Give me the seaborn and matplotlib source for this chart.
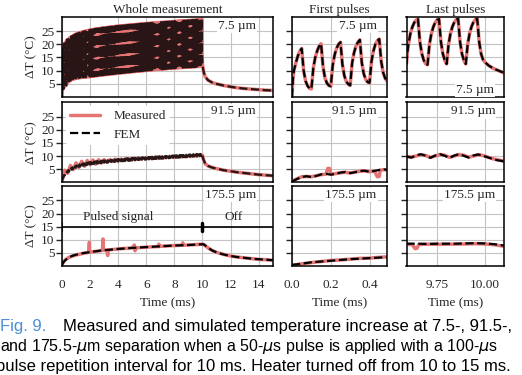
import numpy as np
import seaborn as sns
import matplotlib.pyplot as plt

# ==========================================
# DATA
# ==========================================
# pulse start times: 50-us pulse every 100 us during 10 ms
pulse_start = np.arange(100) * 0.1

# --- 7.5 um, whole measurement: trough before / peak of every pulse ---
trough_7 = [0.0, 3.0, 4.0, 4.3, 5.3, 5.9, 6.2, 6.5, 6.7, 6.9,
            7.0, 7.1, 7.2, 7.3, 7.3, 7.4, 7.5, 7.5, 7.6, 7.6,
            7.7, 7.8, 7.8, 7.9, 8.0, 8.0, 8.1, 8.2, 8.2, 8.3,
            8.4, 8.4, 8.5, 8.5, 8.6, 8.7, 8.7, 8.8, 8.8, 8.9,
            9.0, 9.0, 9.1, 9.1, 9.2, 9.2, 9.3, 9.3, 9.4, 9.5,
            9.5, 9.6, 9.6, 9.7, 9.7, 9.8, 9.8, 9.9, 9.9, 10.0,
            10.0, 10.1, 10.1, 10.2, 10.2, 10.3, 10.3, 10.4, 10.4, 10.5,
            10.5, 10.5, 10.6, 10.6, 10.7, 10.7, 10.8, 10.8, 10.8, 10.9,
            10.9, 11.0, 11.0, 11.0, 11.1, 11.1, 11.1, 11.2, 11.2, 11.2,
            11.3, 11.3, 11.3, 11.4, 11.4, 11.4, 11.5, 11.5, 11.5, 11.6]
peak_7 = [18.4, 20.2, 20.8, 21.7, 22.0, 22.5, 22.9, 23.2, 23.5, 23.8,
          24.0, 24.2, 24.4, 24.6, 24.7, 24.9, 25.0, 25.1, 25.3, 25.4,
          25.5, 25.6, 25.7, 25.8, 25.9, 26.0, 26.0, 26.1, 26.2, 26.3,
          26.3, 26.4, 26.5, 26.5, 26.6, 26.7, 26.7, 26.8, 26.9, 26.9,
          27.0, 27.0, 27.1, 27.1, 27.2, 27.2, 27.3, 27.3, 27.4, 27.4,
          27.5, 27.5, 27.6, 27.6, 27.7, 27.7, 27.8, 27.8, 27.9, 27.9,
          28.0, 28.0, 28.0, 28.1, 28.1, 28.2, 28.2, 28.2, 28.3, 28.3,
          28.4, 28.4, 28.4, 28.5, 28.5, 28.5, 28.6, 28.6, 28.7, 28.7,
          28.8, 28.8, 28.8, 28.9, 28.9, 28.9, 29.0, 29.0, 29.0, 29.1,
          29.1, 29.1, 29.2, 29.2, 29.2, 29.3, 29.3, 29.4, 29.5, 29.6]
tail_t_7 = [9.97, 10.0, 10.05, 10.1, 10.2, 10.4, 10.7, 11.0, 11.5, 12.0,
            12.5, 13.0, 13.5, 14.0, 14.5, 15.0]
tail_7 = [16.5, 12.5, 10.5, 9.2, 7.6, 6.3, 5.4, 4.9, 4.3, 3.8,
          3.4, 3.1, 2.9, 2.7, 2.5, 2.4]

# --- 91.5 um, whole measurement ---
trough_91 = [0.5, 1.8, 2.6, 3.2, 3.7, 4.1, 4.5, 4.8, 5.1, 5.3,
             5.5, 5.7, 5.9, 6.0, 6.2, 6.3, 6.4, 6.5, 6.6, 6.7,
             6.8, 6.9, 6.9, 7.0, 7.1, 7.1, 7.2, 7.3, 7.3, 7.4,
             7.4, 7.5, 7.5, 7.6, 7.6, 7.7, 7.7, 7.8, 7.8, 7.9,
             7.9, 8.0, 8.0, 8.0, 8.1, 8.1, 8.2, 8.2, 8.2, 8.3,
             8.3, 8.4, 8.4, 8.4, 8.5, 8.5, 8.5, 8.6, 8.6, 8.6,
             8.7, 8.7, 8.7, 8.8, 8.8, 8.8, 8.9, 8.9, 8.9, 9.0,
             9.0, 9.0, 9.1, 9.1, 9.1, 9.2, 9.2, 9.2, 9.3, 9.3,
             9.3, 9.4, 9.4, 9.4, 9.5, 9.5, 9.5, 9.6, 9.6, 9.6,
             9.7, 9.7, 9.7, 9.8, 9.8, 9.8, 9.9, 9.9, 9.9, 10.0]
peak_91 = [1.5, 2.7, 3.5, 4.1, 4.6, 5.0, 5.4, 5.7, 6.0, 6.2,
           6.4, 6.6, 6.8, 6.9, 7.1, 7.2, 7.3, 7.4, 7.5, 7.6,
           7.7, 7.8, 7.8, 7.9, 8.0, 8.0, 8.1, 8.2, 8.2, 8.3,
           8.3, 8.4, 8.4, 8.5, 8.5, 8.6, 8.6, 8.7, 8.7, 8.8,
           8.8, 8.9, 8.9, 8.9, 9.0, 9.0, 9.1, 9.1, 9.1, 9.2,
           9.2, 9.3, 9.3, 9.3, 9.4, 9.4, 9.4, 9.5, 9.5, 9.5,
           9.6, 9.6, 9.6, 9.7, 9.7, 9.7, 9.8, 9.8, 9.8, 9.9,
           9.9, 9.9, 10.0, 10.0, 10.0, 10.1, 10.1, 10.1, 10.2, 10.2,
           10.2, 10.3, 10.3, 10.3, 10.4, 10.4, 10.4, 10.5, 10.5, 10.5,
           10.6, 10.6, 10.6, 10.7, 10.7, 10.7, 10.8, 10.8, 10.8, 10.9]
meas_t_91 = [0.0, 0.2, 0.4, 0.6, 0.8, 1.0, 1.2, 1.4, 1.6, 1.8,
             2.0, 2.2, 2.4, 2.6, 2.8, 3.0, 3.2, 3.4, 3.6, 3.8,
             4.0, 4.2, 4.4, 4.6, 4.8, 5.0, 5.2, 5.4, 5.6, 5.8,
             6.0, 6.2, 6.4, 6.6, 6.8, 7.0, 7.2, 7.4, 7.6, 7.8,
             8.0, 8.2, 8.4, 8.6, 8.8, 9.0, 9.2, 9.4, 9.6, 9.8, 10.0]
meas_91 = [0.5, 4.6, 3.4, 6.4, 4.8, 7.4, 5.6, 8.0, 6.1, 8.3,
           6.7, 8.5, 6.9, 8.6, 7.3, 8.6, 7.6, 8.6, 7.9, 8.8,
           8.1, 8.8, 8.3, 9.0, 8.5, 9.1, 8.6, 9.2, 8.8, 9.3,
           8.9, 9.4, 9.0, 9.5, 9.1, 9.6, 9.2, 9.7, 9.4, 9.8,
           9.5, 9.9, 9.6, 10.0, 9.7, 10.1, 9.8, 10.3, 9.9, 10.5, 10.3]
tail_t_91 = [10.0, 10.05, 10.1, 10.2, 10.4, 10.7, 11.0, 11.5, 12.0, 12.5,
             13.0, 13.5, 14.0, 14.5, 15.0]
tail_91 = [10.2, 9.0, 8.3, 7.0, 6.2, 5.6, 5.2, 4.6, 4.2, 3.8,
           3.5, 3.2, 2.9, 2.7, 2.5]

# --- 175.5 um, whole measurement ---
fem_t_175 = [0, 0.1, 0.25, 0.5, 0.75, 1, 1.5, 2, 2.5, 3, 4, 5, 6, 7, 8, 9, 10,
             10.1, 10.2, 10.4, 10.7, 11, 11.5, 12, 12.5, 13, 13.5, 14, 14.5, 15]
fem_175 = [0.4, 1.4, 2.3, 3.3, 3.9, 4.3, 4.9, 5.3, 5.7, 6.0, 6.5, 6.9, 7.2,
           7.5, 7.8, 8.0, 8.3, 8.2, 7.8, 6.9, 5.9, 5.2, 4.4, 3.8, 3.4, 3.1,
           2.8, 2.6, 2.4, 2.2]
meas_t_175 = [0, 0.1, 0.25, 0.5, 0.75, 1.0, 1.5, 1.9, 1.95, 1.97, 2.0, 2.5,
              2.88, 2.92, 2.95, 3.2, 3.25, 3.3, 4.0, 5.0, 5.15, 5.2, 5.25,
              5.3, 6.0, 6.85, 6.9, 6.95, 7.0, 8.0, 8.55, 8.6, 8.65, 9.0,
              10.0, 10.1, 10.2, 10.4, 10.7, 11.0, 11.5, 12.0, 12.5, 13.0,
              13.5, 14.0, 14.5, 15.0]
meas_175 = [0.4, 1.5, 2.4, 3.3, 3.8, 4.2, 4.8, 5.2, 9.0, 5.3, 5.3, 5.6,
            6.0, 10.3, 6.0, 6.1, 4.0, 6.1, 6.5, 6.9, 8.0, 5.8, 6.9,
            6.9, 7.2, 7.4, 8.3, 7.4, 7.5, 7.8, 7.9, 8.8, 7.9, 8.0,
            8.3, 8.2, 7.7, 6.9, 5.9, 5.2, 4.4, 3.8, 3.4, 3.1,
            2.8, 2.5, 2.4, 2.2]

# --- first pulses (0 - 0.49 ms) ---
first_t_7 = [0.0, 0.005, 0.01, 0.02, 0.03, 0.04, 0.05, 0.06, 0.07, 0.08, 0.09,
             0.10, 0.11, 0.12, 0.13, 0.14, 0.15, 0.16, 0.17, 0.18, 0.19,
             0.20, 0.21, 0.22, 0.23, 0.24, 0.25, 0.26, 0.27, 0.28, 0.29,
             0.30, 0.31, 0.32, 0.33, 0.34, 0.35, 0.36, 0.37, 0.38, 0.39,
             0.40, 0.41, 0.42, 0.43, 0.44, 0.45, 0.46, 0.47, 0.48, 0.49]
first_7 = [0.0, 7.0, 10.0, 13.0, 15.5, 17.3, 18.4, 10.0, 6.0, 4.2, 3.2,
           3.0, 11.0, 15.0, 17.5, 19.3, 20.2, 11.5, 7.2, 5.2, 4.3,
           4.0, 12.0, 16.0, 18.5, 20.0, 20.8, 12.3, 8.0, 5.8, 4.8,
           4.3, 12.8, 16.8, 19.3, 20.8, 21.7, 13.0, 8.8, 6.6, 5.6,
           5.3, 13.5, 17.5, 20.0, 21.3, 22.0, 13.5, 9.3, 7.1, 6.0]
first_t_91 = [0.0, 0.025, 0.05, 0.075, 0.1, 0.125, 0.15, 0.175, 0.2, 0.225,
              0.25, 0.275, 0.3, 0.325, 0.35, 0.375, 0.4, 0.425, 0.45, 0.475, 0.49]
first_fem_91 = [0.3, 1.2, 2.0, 2.3, 2.0, 2.4, 3.0, 3.2, 2.9, 3.2,
                3.7, 3.9, 3.5, 3.8, 4.3, 4.4, 4.0, 4.3, 4.7, 4.9, 4.7]
first_mt_91 = [0.0, 0.025, 0.05, 0.075, 0.1, 0.125, 0.15, 0.175, 0.185, 0.195,
               0.2, 0.225, 0.25, 0.275, 0.3, 0.325, 0.35, 0.375, 0.4, 0.425,
               0.44, 0.45, 0.455, 0.475, 0.49]
first_meas_91 = [0.3, 1.3, 2.1, 2.2, 2.1, 2.5, 2.9, 3.1, 5.3, 5.2,
                 3.0, 3.3, 3.6, 3.8, 3.5, 3.9, 4.2, 4.3, 4.0, 4.3,
                 2.1, 2.2, 4.6, 4.8, 4.7]
first_t_175 = [0.0, 0.05, 0.1, 0.15, 0.2, 0.25, 0.3, 0.35, 0.4, 0.45, 0.49]
first_fem_175 = [0.4, 0.9, 1.4, 1.7, 2.0, 2.3, 2.6, 2.8, 3.0, 3.2, 3.4]
first_meas_175 = [0.3, 0.8, 1.3, 1.7, 2.1, 2.3, 2.6, 2.9, 3.0, 3.3, 3.5]

# --- last pulses (9.59 - 10.10 ms) ---
last_t_7 = [9.59, 9.595, 9.60, 9.61, 9.62, 9.63, 9.64, 9.65, 9.66, 9.67, 9.68, 9.69,
            9.70, 9.71, 9.72, 9.73, 9.74, 9.75, 9.76, 9.77, 9.78, 9.79,
            9.80, 9.81, 9.82, 9.83, 9.84, 9.85, 9.86, 9.87, 9.88, 9.89,
            9.90, 9.91, 9.92, 9.93, 9.94, 9.95, 9.96, 9.97, 9.98, 9.99,
            10.00, 10.02, 10.04, 10.06, 10.08, 10.10]
last_7 = [12.5, 17.0, 20.0, 24.0, 26.5, 28.2, 29.2, 29.6, 21.0, 16.5, 14.0, 12.6,
          12.2, 20.0, 24.0, 26.6, 28.3, 29.3, 29.6, 21.0, 16.4, 13.9,
          12.5, 20.0, 24.1, 26.7, 28.4, 29.4, 29.7, 21.0, 16.4, 13.9,
          12.5, 20.0, 24.1, 26.7, 28.4, 29.4, 29.7, 21.0, 16.4, 14.2,
          13.2, 11.9, 11.0, 10.3, 9.7, 9.1]
last_t_91 = [9.59, 9.615, 9.64, 9.665, 9.69, 9.715, 9.74, 9.765, 9.79, 9.815,
             9.84, 9.865, 9.89, 9.915, 9.94, 9.965, 9.99, 10.015, 10.04,
             10.065, 10.09, 10.10]
last_fem_91 = [9.8, 9.4, 10.2, 10.7, 10.1, 9.3, 10.2, 10.7, 10.1, 9.3,
               10.2, 10.7, 10.1, 9.4, 10.2, 10.6, 10.1, 9.5, 8.9, 8.4, 8.1, 8.0]
last_meas_91 = [9.9, 9.6, 10.0, 10.5, 10.2, 9.5, 10.0, 10.6, 10.3, 9.5,
                10.0, 10.6, 10.3, 9.6, 10.0, 10.5, 10.2, 9.6, 9.0, 8.6, 8.2, 7.9]
last_t_175 = [9.59, 9.65, 9.7, 9.75, 9.8, 9.85, 9.9, 9.95, 10.0, 10.05, 10.1]
last_fem_175 = [8.5, 8.5, 8.4, 8.5, 8.5, 8.5, 8.6, 8.7, 8.6, 8.3, 7.8]
last_mt_175 = [9.59, 9.62, 9.635, 9.645, 9.655, 9.7, 9.8, 9.9, 9.95, 10.0, 10.05, 10.1]
last_meas_175 = [8.2, 8.2, 6.6, 6.8, 8.2, 8.3, 8.3, 8.4, 8.5, 8.4, 8.1, 7.5]

# heater signal annotation: on from 0 to 10 ms, off until 15 ms
signal_t = [0, 10, 15]
signal_level = 15

sep_labels = ['7.5 µm', '91.5 µm', '175.5 µm']
col_titles = ['Whole measurement', 'First pulses', 'Last pulses']


def zigzag(trough, peak, tail_t, tail):
    # pulse train: trough at pulse start, peak at pulse end (+50 us)
    t = np.column_stack([pulse_start, pulse_start + 0.05]).ravel()
    y = np.column_stack([trough, peak]).ravel()
    return np.concatenate([t, tail_t]), np.concatenate([y, tail])


# ==========================================
# FIGURE
# ==========================================
sns.set_style('ticks')
plt.rcParams['font.family'] = ['Liberation Serif', 'DejaVu Serif']
plt.rcParams['mathtext.fontset'] = 'dejavusans'

RED = '#e57575'
fig = plt.figure(figsize=(5.22, 3.75), dpi=100)

lefts = [62 / 522, 292 / 522, 406.5 / 522]
widths = [210.7 / 522, 95 / 522, 97.5 / 522]
bottoms = [0.742, 0.514, 0.2907]
h = 0.2133

axes = [[fig.add_axes([lefts[c], bottoms[r], widths[c], h]) for c in range(3)]
        for r in range(3)]

whole_7 = zigzag(trough_7, peak_7, tail_t_7, tail_7)
whole_91 = zigzag(trough_91, peak_91, tail_t_91, tail_91)

series = [
    # row 7.5 um: measured and FEM overlap on this scale
    [(whole_7, whole_7), ((first_t_7, first_7), (first_t_7, first_7)),
     ((last_t_7, last_7), (last_t_7, last_7))],
    [((meas_t_91 + tail_t_91, meas_91 + tail_91), whole_91),
     ((first_mt_91, first_meas_91), (first_t_91, first_fem_91)),
     ((last_t_91, last_meas_91), (last_t_91, last_fem_91))],
    [((meas_t_175, meas_175), (fem_t_175, fem_175)),
     ((first_t_175, first_meas_175), (first_t_175, first_fem_175)),
     ((last_mt_175, last_meas_175), (last_t_175, last_fem_175))],
]

xlims = [(0, 15), (0, 0.49), (9.59, 10.10)]
xticks = [list(range(0, 15, 2)), [0.0, 0.2, 0.4], [9.75, 10.0]]
xticklabels = [[str(v) for v in range(0, 15, 2)], ['0.0', '0.2', '0.4'], ['9.75', '10.00']]

for r in range(3):
    for c in range(3):
        ax = axes[r][c]
        (mt, my), (ft, fy) = series[r][c]
        lab = (r == 1 and c == 0)
        # dense pulse trains: dashes blur into a dark brown band
        fem_alpha = 0.82 if (c == 0 and r < 2) else 1.0
        sns.lineplot(x=np.asarray(mt), y=np.asarray(my), ax=ax, color=RED, lw=2.5,
                     sort=False, estimator=None, label='Measured' if lab else None)
        sns.lineplot(x=np.asarray(ft), y=np.asarray(fy), ax=ax, color='black', lw=1.6,
                     linestyle='--', sort=False, estimator=None, alpha=fem_alpha,
                     label='FEM' if lab else None)

        ax.set_xlim(*xlims[c])
        ax.set_ylim(0, 30.5)
        ax.set_xticks(xticks[c])
        ax.set_yticks([5, 10, 15, 20, 25])
        ax.grid(True, color='#c4c4c4', lw=0.8)
        ax.set_axisbelow(True)
        ax.tick_params(axis='x', length=0, labelsize=9.5, pad=9.5)
        ax.tick_params(axis='y', length=4, width=1, labelsize=9.5, pad=1.5)
        for s in ax.spines.values():
            s.set_visible(True)
            s.set_linewidth(1.1)
            s.set_color('black')
        if r == 2:
            ax.set_xticklabels(xticklabels[c])
            ax.set_xlabel('Time (ms)', fontsize=9.5, labelpad=4.5)
        else:
            ax.set_xticklabels([])
            ax.set_xlabel('')
        if c == 0:
            ax.set_ylabel('ΔT (°C)', fontsize=9.5, labelpad=3)
        else:
            ax.set_yticklabels([])
            ax.set_ylabel('')
        if r == 0:
            ax.set_title(col_titles[c], fontsize=9.5, pad=3)

        # separation label
        if r == 0 and c == 2:
            tx, ty = 0.9, 0.085
        else:
            tx, ty = [0.92, 0.89, 0.91][c], 0.885
        ax.text(tx, ty, sep_labels[r], transform=ax.transAxes, ha='right', va='center',
                fontsize=9.5, bbox=dict(facecolor='white', edgecolor='none', pad=0.8))

        if lab:
            leg = ax.legend(loc='upper left', fontsize=9.5, frameon=True, facecolor='white',
                            edgecolor='none', framealpha=1, handlelength=2.3,
                            labelspacing=0.45, borderpad=0.3, borderaxespad=0.3,
                            handletextpad=1.0)
            for hl in leg.get_lines():
                hl.set_alpha(1.0)
        elif ax.get_legend() is not None:
            ax.get_legend().remove()

# pulsed-signal bar in the bottom-left panel
ax = axes[2][0]
ax.plot([signal_t[0], signal_t[-1]], [signal_level] * 2, color='black', lw=1.2)
ax.plot([signal_t[0]] * 2, [signal_level - 1.5, signal_level + 1.5], color='black', lw=1.2)
ax.plot([signal_t[1]] * 2, [signal_level - 1.5, signal_level + 1.5], color='black', lw=2.5)
ax.text(4.0, signal_level + 3.7, 'Pulsed signal', ha='center', va='center', fontsize=9.5)
ax.text(12.2, signal_level + 3.7, 'Off', ha='center', va='center', fontsize=9.5)

# caption (cropped at the image edges, as in the source page)
cap = dict(family=['Liberation Sans', 'DejaVu Sans'], va='center')
fig.text(0.0, 1 - 327 / 375, 'Fig. 9.', color='#4a8fd8', ha='left', fontsize=12, **cap)
fig.text(63 / 522, 1 - 327 / 375,
         'Measured and simulated temperature increase at 7.5-, 91.5-,',
         color='black', ha='left', fontsize=12, **cap)
fig.text(0.0, 1 - 346.5 / 375,
         'and 175.5-$\\mu$m separation when a 50-$\\mu$s pulse is applied with a 100-$\\mu$s',
         color='black', ha='left', fontsize=11.5, **cap)
fig.text(-4 / 522, 1 - 366 / 375,
         'pulse repetition interval for 10 ms. Heater turned off from 10 to 15 ms.',
         color='black', ha='left', fontsize=12, **cap)

plt.savefig('out.png', dpi=100)
